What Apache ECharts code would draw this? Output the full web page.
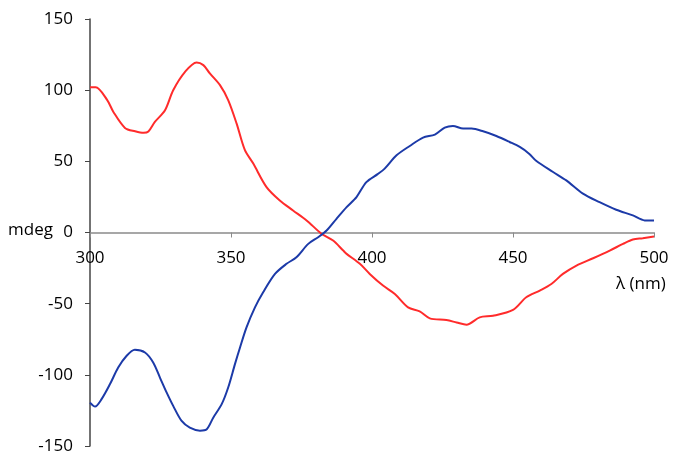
<!DOCTYPE html>
<html>
<head>
<meta charset="utf-8" />
<script src="https://cdn.jsdelivr.net/npm/echarts@6/dist/echarts.min.js"></script>
<style>
  html, body { margin: 0; padding: 0; background: #fff; }
  #chart { width: 673px; height: 457px; }
</style>
</head>
<body>
<div id="chart"></div>
<script>
// wavelengths (nm) and CD signal (mdeg)
const redNm = [300, 302, 306, 308.3, 312.4, 316, 319, 320.7, 323, 326.6, 329.5, 333.7, 337.8, 340.2, 342.5, 346.1, 349, 352, 354.9, 357.9, 362.6, 367.3, 372, 376.8, 382.1, 386.2, 389.8, 391, 395.7, 399.2, 403.9, 408.1, 412.8, 416.9, 420.5, 426.4, 430, 433.5, 438.2, 442.9, 450, 454.7, 459.5, 463.6, 467.7, 472.5, 478.4, 484.3, 489, 492.5, 496, 500]
const redVal = [102, 102, 93.4, 84.7, 73.5, 71.1, 70, 70.9, 77.7, 85.9, 100, 112.9, 119.5, 117.6, 111.8, 103.5, 93, 76.5, 58, 48.4, 31.9, 22.5, 15.5, 8.5, -0.9, -5.6, -12.7, -15, -22, -29.1, -37.3, -43.2, -52.6, -55.4, -60.3, -61.5, -63.2, -64.8, -59.6, -58.5, -54.4, -45.5, -40.8, -36.2, -29.1, -23.2, -18.1, -12.7, -8, -4.9, -4, -2.8]

const blueNm = [300, 301.8, 304.1, 307.1, 310, 313, 315.9, 319.5, 322.4, 324.8, 327.2, 329.5, 332.5, 335.4, 339, 341.4, 343.7, 346.7, 349, 351.4, 353.2, 355.5, 358.5, 361.4, 365.6, 369.7, 373.2, 377.4, 380.9, 383.9, 387.4, 391, 394.5, 398, 402, 404.5, 408.7, 413.4, 418.1, 422.3, 425.8, 428.7, 432.3, 435.3, 439.4, 444.1, 448.8, 452.4, 455.7, 458.3, 464.2, 468.9, 474.8, 480.7, 486.6, 492.5, 496.7, 500]
const blueVal = [-119.5, -122.3, -117.1, -106.5, -94.9, -86.6, -82.4, -84.3, -91.3, -101.9, -112.5, -121.8, -132.4, -137.1, -139.2, -138.2, -130.1, -120.6, -108.9, -92.5, -80.8, -66.7, -52.6, -42, -29.1, -22, -17.4, -8, -3.3, 1.4, 9.6, 17.8, 24.9, 35.4, 41, 44.9, 54.2, 60.8, 66.7, 68.8, 73.7, 74.9, 73, 73, 71.1, 67.8, 63.6, 60.1, 55.4, 50.2, 42.5, 36.6, 27.3, 21.3, 16, 12, 8.5, 8.5]

const xTicks = [300, 350, 400, 450, 500]
const yTicks = [-150, -100, -50, 0, 50, 100, 150]

const font = '"Open Sans", "DejaVu Sans", sans-serif'

const zip = (xs, ys) => xs.map((x, i) => [x, ys[i]])

const gridTop = 19
const gridBottom = 11
const plotH = 457 - gridTop - gridBottom

const myChart = echarts.init(document.getElementById('chart'), null, { renderer: 'canvas' })

myChart.setOption({
  animation: false,
  backgroundColor: '#fff',
  grid: { left: 90, right: 19, top: gridTop, bottom: gridBottom, outerBoundsMode: 'none', containLabel: false },
  xAxis: {
    type: 'value',
    position: 'bottom',
    // the x axis crosses at y = 0, labels travel with it
    offset: -plotH / 2,
    min: xTicks[0],
    max: xTicks[xTicks.length - 1],
    interval: 50,
    axisLine: { onZero: false, lineStyle: { color: '#8a8a8a', width: 1.5 } },
    axisTick: { show: true, inside: false, length: 5, lineStyle: { color: '#8a8a8a' } },
    axisLabel: { color: '#000', fontSize: 17, fontFamily: font, margin: 17 },
    splitLine: { show: false },
  },
  yAxis: {
    type: 'value',
    min: yTicks[0],
    max: yTicks[yTicks.length - 1],
    interval: 50,
    axisLine: { show: true, onZero: false, lineStyle: { color: '#444', width: 1.5 } },
    axisTick: { show: true, inside: false, length: 5, lineStyle: { color: '#444' } },
    axisLabel: { color: '#000', fontSize: 17, fontFamily: font, margin: 17 },
    splitLine: { show: false },
  },
  graphic: [
    {
      type: 'text',
      left: 8,
      top: 222,
      style: { text: 'mdeg', fill: '#000', font: '17px ' + font },
    },
    {
      type: 'text',
      left: 616,
      top: 276,
      style: { text: 'λ (nm)', fill: '#000', font: '17px ' + font },
    },
  ],
  series: [
    {
      type: 'line',
      data: zip(redNm, redVal),
      showSymbol: false,
      smooth: 0.3,
      lineStyle: { color: '#ff2b2b', width: 2 },
    },
    {
      type: 'line',
      data: zip(blueNm, blueVal),
      showSymbol: false,
      smooth: 0.3,
      lineStyle: { color: '#1c3aa8', width: 2 },
    },
  ],
})
</script>
</body>
</html>
